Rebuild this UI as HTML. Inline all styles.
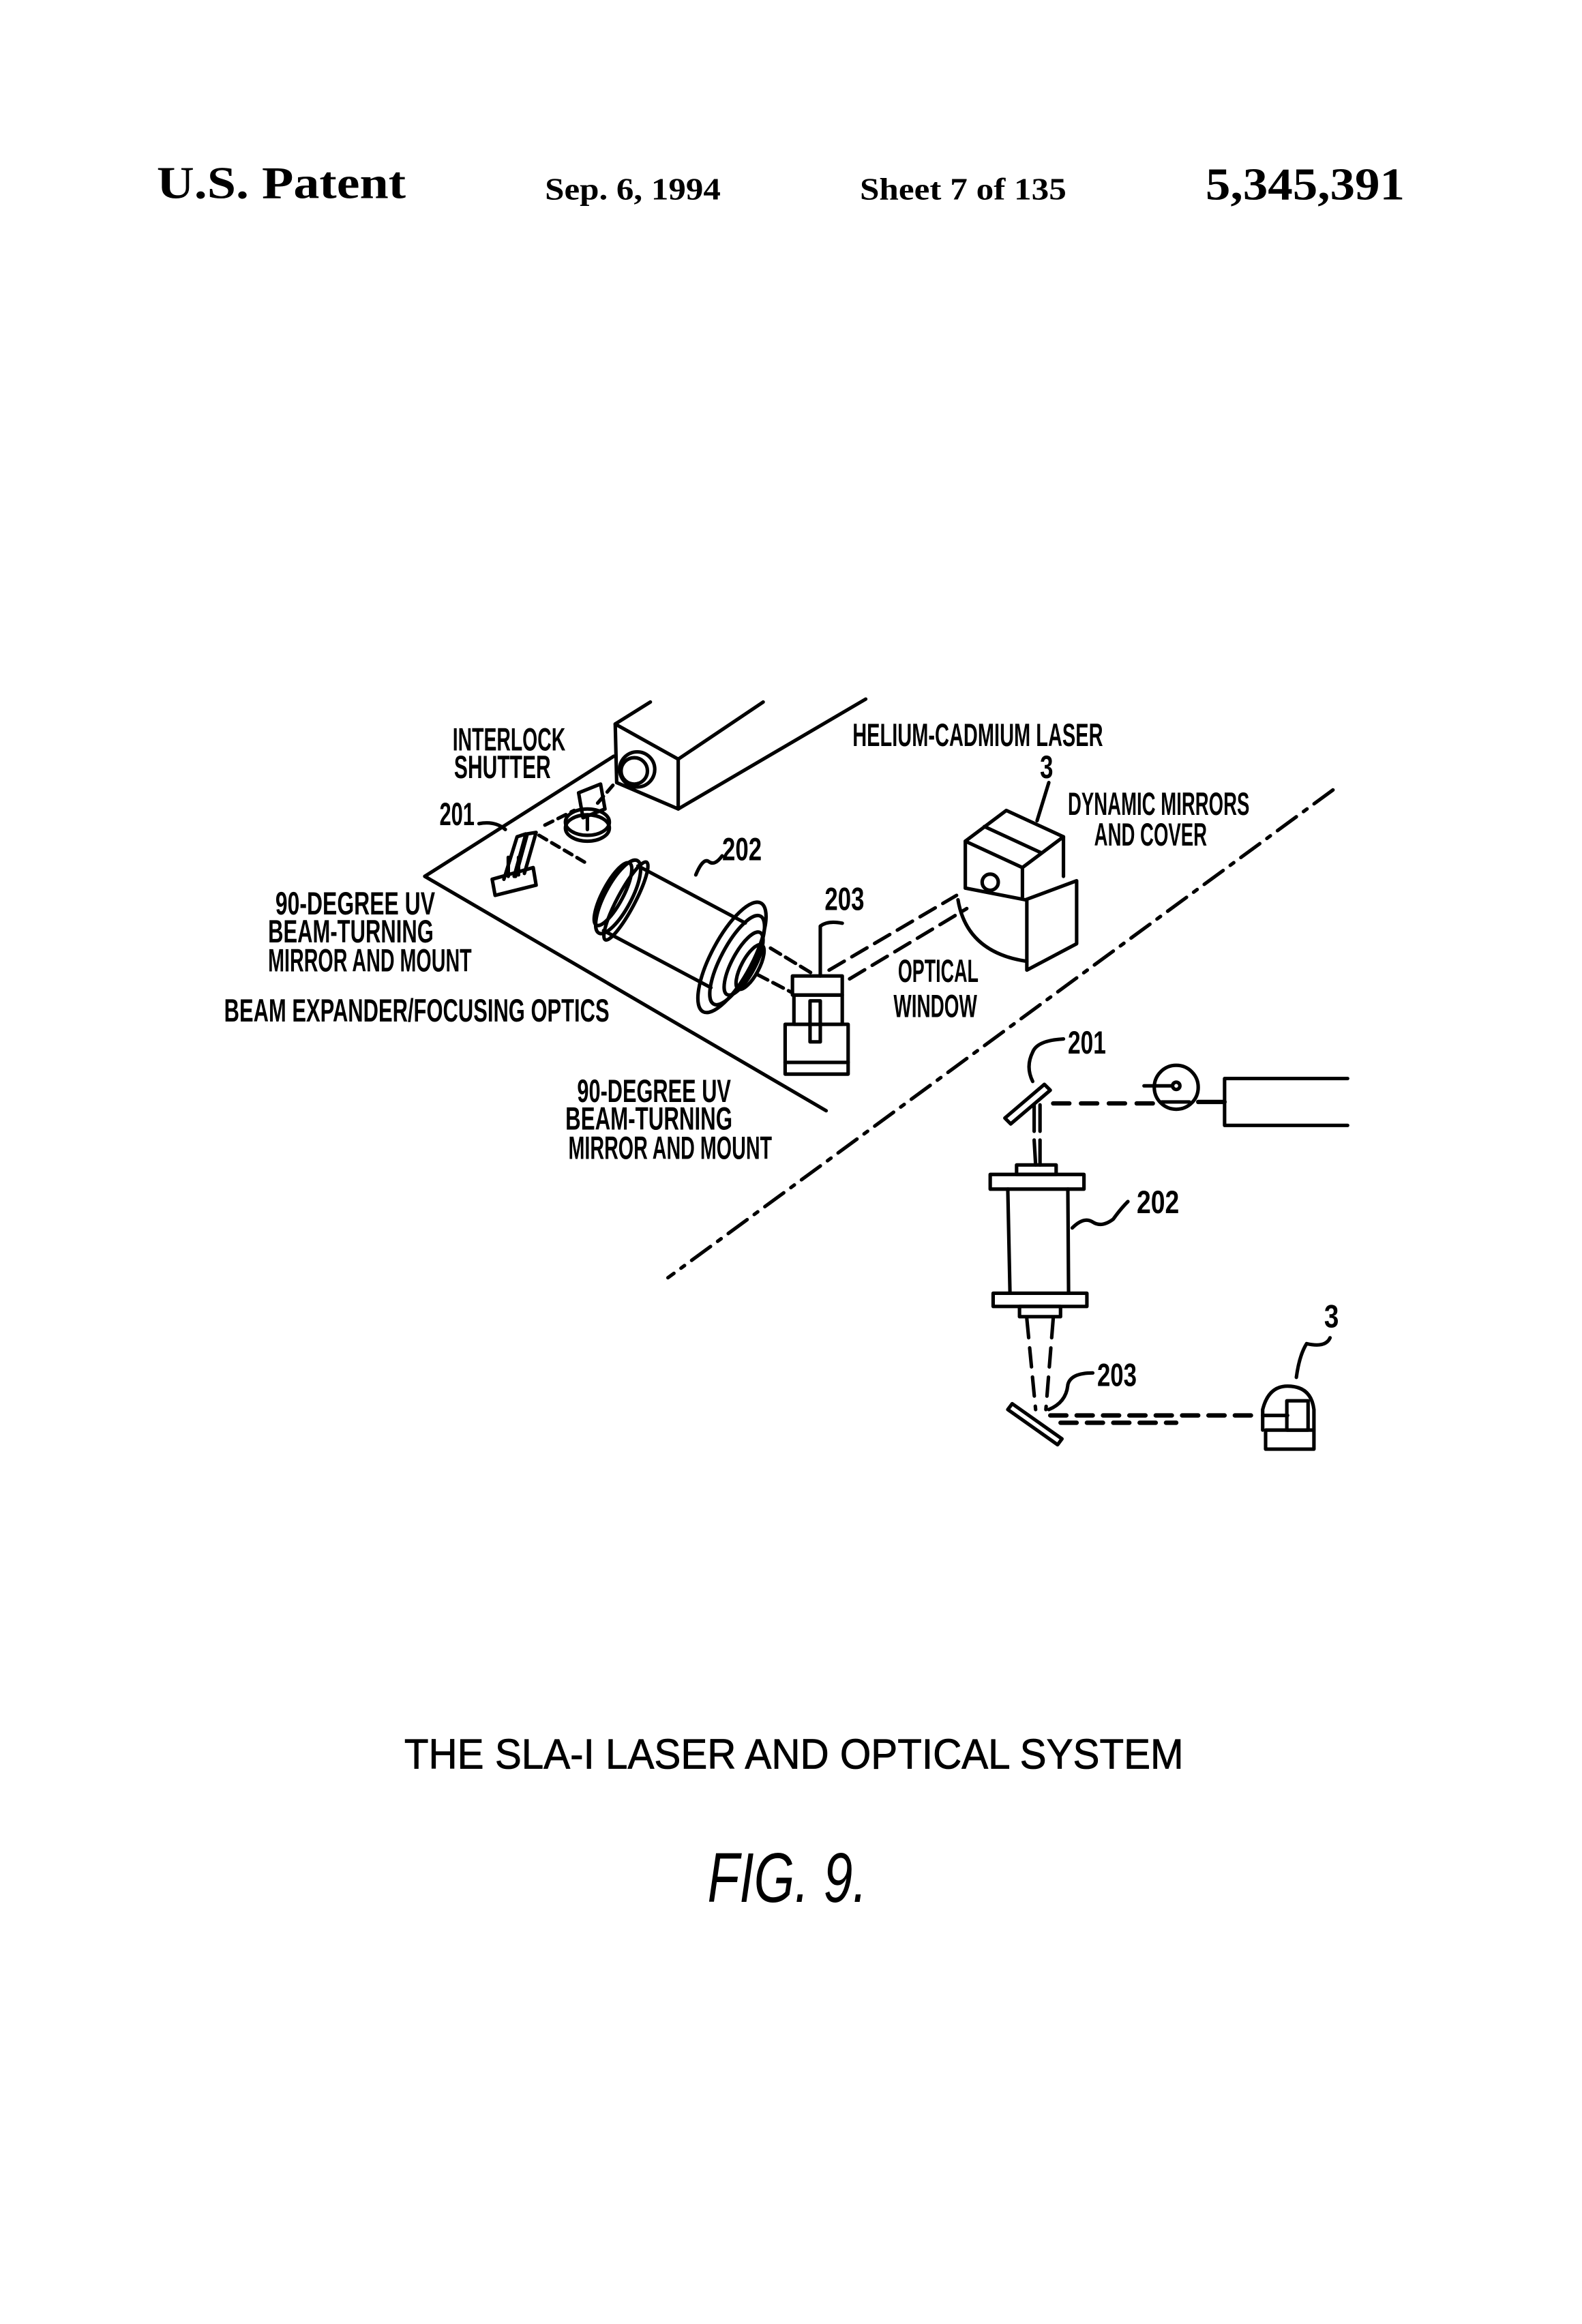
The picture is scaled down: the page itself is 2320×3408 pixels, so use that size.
<!DOCTYPE html>
<html><head><meta charset="utf-8"><style>
html,body{margin:0;padding:0;background:#fff;}
svg{display:block;}
.l{font-family:"Liberation Sans Narrow","Liberation Sans",sans-serif;font-weight:bold;font-size:22px;fill:#000;}
</style></head><body>
<svg width="2320" height="3408" viewBox="0 0 1080 1586" xmlns="http://www.w3.org/2000/svg">
<rect width="1080" height="1586" fill="#fff"/>
<g font-family="Liberation Serif, serif" font-weight="bold" fill="#000">
<text x="107" y="135" font-size="31" textLength="170" lengthAdjust="spacingAndGlyphs">U.S. Patent</text>
<text x="372" y="136" font-size="21" textLength="120" lengthAdjust="spacingAndGlyphs">Sep. 6, 1994</text>
<text x="587" y="136" font-size="21" textLength="141" lengthAdjust="spacingAndGlyphs">Sheet 7 of 135</text>
<text x="823" y="136" font-size="31" textLength="136" lengthAdjust="spacingAndGlyphs">5,345,391</text>
</g>
<g fill="none" stroke="#000" stroke-width="2.4" stroke-linecap="round" stroke-linejoin="round">
<path d="M420,494 L463,518 L463,552 L421,534 Z"/>
<line x1="420" y1="494" x2="444" y2="479"/>
<line x1="463" y1="518" x2="521" y2="479"/>
<line x1="463" y1="552" x2="591" y2="477"/>
<circle cx="435" cy="525" r="12"/><circle cx="433" cy="526" r="9"/>
<line x1="290" y1="598" x2="419" y2="516"/>
<line x1="290" y1="598" x2="564" y2="758"/>
<line x1="910" y1="539" x2="456" y2="872" stroke-dasharray="16 6 3 6"/>
<ellipse cx="401" cy="561" rx="15" ry="9"/>
<ellipse cx="401" cy="565" rx="15" ry="9"/>
<path d="M395,541 L410,535 L413,552 L398,558 Z"/>
<line x1="401" y1="556" x2="401" y2="566"/>
<path d="M336,600 L364,592 L366,604 L338,611 Z"/>
<path d="M344,600 L353,571 L359,569 L351,598"/>
<path d="M352,598 L360,569 L366,568 L358,596"/>
<line x1="347" y1="585" x2="347" y2="598"/>
<line x1="354" y1="585" x2="354" y2="597"/>
<line x1="368" y1="570" x2="402" y2="590" stroke-dasharray="6 4"/>
<line x1="372" y1="563" x2="392" y2="553" stroke-dasharray="6 4"/>
<line x1="408" y1="548" x2="420" y2="534" stroke-dasharray="6 4"/>
<g transform="translate(422,612) rotate(28)">
<ellipse cx="0" cy="0" rx="9" ry="28"/>
<ellipse cx="-4" cy="0" rx="7" ry="24"/>
<line x1="2" y1="-25" x2="85" y2="-25"/>
<line x1="2" y1="25" x2="85" y2="25"/>
<ellipse cx="6" cy="0" rx="6" ry="30"/>
<ellipse cx="88" cy="0" rx="14" ry="42"/>
<ellipse cx="92" cy="0" rx="11" ry="34"/>
<ellipse cx="97" cy="0" rx="8" ry="24"/>
<ellipse cx="102" cy="0" rx="6" ry="17"/>
</g>
<line x1="526" y1="647" x2="554" y2="664" stroke-dasharray="8 4"/>
<line x1="517" y1="665" x2="540" y2="677" stroke-dasharray="8 4"/>
<rect x="541" y="666" width="34" height="13"/>
<rect x="542" y="679" width="33" height="20"/>
<rect x="536" y="699" width="43" height="34"/>
<line x1="536" y1="725" x2="579" y2="725"/>
<rect x="553" y="683" width="7" height="28"/>
<line x1="566" y1="662" x2="653" y2="611" stroke-dasharray="12 6"/>
<line x1="580" y1="668" x2="660" y2="620" stroke-dasharray="12 6"/>
<path d="M659,574 L687,553 L726,571 L698,592 Z"/>
<line x1="672" y1="564" x2="711" y2="582"/>
<line x1="659" y1="574" x2="659" y2="606"/>
<line x1="698" y1="592" x2="698" y2="612"/>
<line x1="726" y1="571" x2="726" y2="598"/>
<path d="M659,606 L700,614 L735,601 L735,644 L701,662 L701,614"/>
<path d="M654,614 Q660,650 701,656"/>
<circle cx="676" cy="602" r="5.5"/>
<path d="M327,562 Q338,560 345,566"/>
<path d="M475,597 Q480,585 484,588 Q488,591 493,584"/>
<path d="M560,666 L560,632 Q565,628 575,630"/>
<path d="M708,560 L716,534"/>
<path d="M686,763 L713,740 L717,744 L690,767 Z"/>
<line x1="719" y1="753" x2="790" y2="753" stroke-width="3" stroke-dasharray="11 8"/>
<circle cx="803" cy="742" r="15"/>
<line x1="781" y1="741" x2="800" y2="741"/><circle cx="803" cy="741" r="2.5"/>
<line x1="793" y1="752" x2="812" y2="752"/>
<line x1="818" y1="752" x2="836" y2="752" stroke-width="3"/>
<path d="M920,736 L836,736 L836,768 L920,768"/>
<path d="M705,738 Q700,728 705,718 Q708,710 726,709"/>
<line x1="706" y1="754" x2="706" y2="772"/><line x1="710" y1="754" x2="710" y2="772"/>
<line x1="706" y1="778" x2="707" y2="795"/><line x1="710" y1="778" x2="710" y2="795"/>
<rect x="694" y="795" width="27" height="6.5"/>
<rect x="676" y="801.5" width="64" height="10"/>
<path d="M688,811.5 L689.5,882.6 M729,811.5 L729.5,882.6"/>
<rect x="678" y="882.6" width="64" height="9"/>
<rect x="696" y="891.6" width="28" height="7"/>
<path d="M732,838 Q740,830 746,834 Q752,838 760,832 Q765,825 770,820"/>
<line x1="701" y1="900" x2="707" y2="962" stroke-dasharray="13 7"/>
<line x1="719" y1="900" x2="714" y2="962" stroke-dasharray="13 7"/>
<path d="M691,958 L725,982 L722,986 L688,962 Z"/>
<path d="M716,962 Q728,957 729,945 Q731,937 746,937"/>
<line x1="717" y1="966" x2="858" y2="966" stroke-width="3" stroke-dasharray="11 7"/>
<line x1="724" y1="971" x2="803" y2="971" stroke-width="3" stroke-dasharray="11 7"/>
<path d="M862,976 L862,962 Q866,946 879,946 Q895,946 897,962 L897,976"/>
<rect x="864" y="976" width="33" height="13"/>
<rect x="878.5" y="956" width="14.5" height="20"/>
<line x1="862" y1="966" x2="879" y2="966"/>
<path d="M885,940 Q887,925 892,917 Q905,920 908,913"/>
</g>
<g class="l">
<text x="309" y="512" textLength="77" lengthAdjust="spacingAndGlyphs">INTERLOCK</text>
<text x="310" y="531" textLength="66" lengthAdjust="spacingAndGlyphs">SHUTTER</text>
<text x="582" y="509" textLength="171" lengthAdjust="spacingAndGlyphs">HELIUM-CADMIUM LASER</text>
<text x="710" y="531" textLength="9" lengthAdjust="spacingAndGlyphs">3</text>
<text x="729" y="556" textLength="124" lengthAdjust="spacingAndGlyphs">DYNAMIC MIRRORS</text>
<text x="747" y="577" textLength="77" lengthAdjust="spacingAndGlyphs">AND COVER</text>
<text x="300" y="563" textLength="24" lengthAdjust="spacingAndGlyphs">201</text>
<text x="493" y="587" textLength="27" lengthAdjust="spacingAndGlyphs">202</text>
<text x="563" y="621" textLength="27" lengthAdjust="spacingAndGlyphs">203</text>
<text x="188" y="624" textLength="109" lengthAdjust="spacingAndGlyphs">90-DEGREE UV</text>
<text x="183" y="643" textLength="113" lengthAdjust="spacingAndGlyphs">BEAM-TURNING</text>
<text x="183" y="663" textLength="139" lengthAdjust="spacingAndGlyphs">MIRROR AND MOUNT</text>
<text x="153" y="697" textLength="263" lengthAdjust="spacingAndGlyphs">BEAM EXPANDER/FOCUSING OPTICS</text>
<text x="613" y="670" textLength="55" lengthAdjust="spacingAndGlyphs">OPTICAL</text>
<text x="610" y="694" textLength="57" lengthAdjust="spacingAndGlyphs">WINDOW</text>
<text x="394" y="752" textLength="105" lengthAdjust="spacingAndGlyphs">90-DEGREE UV</text>
<text x="386" y="771" textLength="114" lengthAdjust="spacingAndGlyphs">BEAM-TURNING</text>
<text x="388" y="791" textLength="139" lengthAdjust="spacingAndGlyphs">MIRROR AND MOUNT</text>
<text x="729" y="719" textLength="26" lengthAdjust="spacingAndGlyphs">201</text>
<text x="776" y="828" textLength="29" lengthAdjust="spacingAndGlyphs">202</text>
<text x="749" y="946" textLength="27" lengthAdjust="spacingAndGlyphs">203</text>
<text x="904" y="906" textLength="10" lengthAdjust="spacingAndGlyphs">3</text>
</g>
<text x="276" y="1207" font-family="Liberation Sans, sans-serif" font-size="29" textLength="532" lengthAdjust="spacingAndGlyphs" stroke="#000" stroke-width="0.4">THE SLA-I LASER AND OPTICAL SYSTEM</text>
<text x="483" y="1298" font-family="Liberation Sans, sans-serif" font-style="italic" font-size="48" textLength="109" lengthAdjust="spacingAndGlyphs">FIG. 9.</text>
</svg>
</body></html>
